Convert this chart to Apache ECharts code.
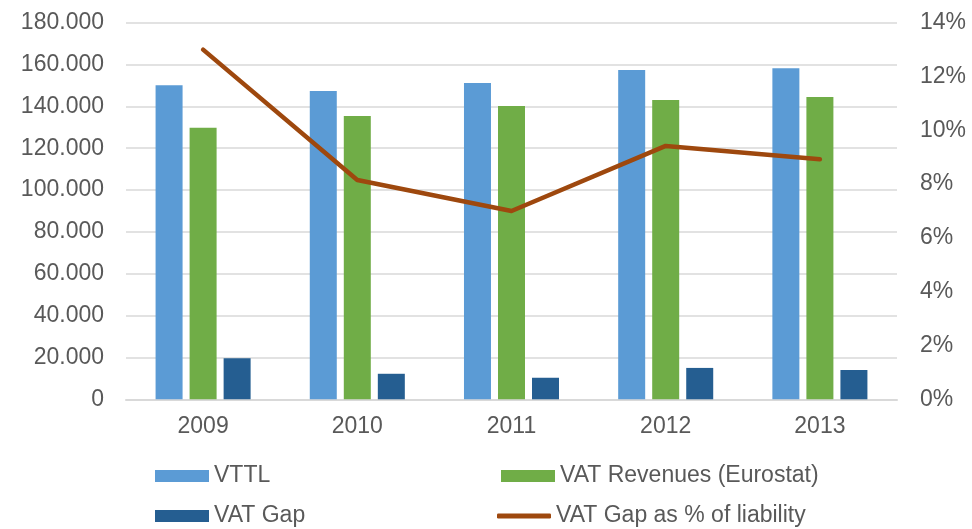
<!DOCTYPE html>
<html>
<head>
<meta charset="utf-8">
<script src="https://cdn.jsdelivr.net/npm/echarts@6/dist/echarts.min.js"></script>
<style>
  html, body { margin: 0; padding: 0; background: #fff; }
  #chart { width: 972px; height: 529px; }
</style>
</head>
<body>
<div id="chart"></div>
<script>
const years = ['2009', '2010', '2011', '2012', '2013'];
const vttl = [150100, 147400, 151200, 157400, 158200];
const vatRevenues = [129800, 135400, 140200, 143000, 144500];
const vatGap = [19600, 12200, 10300, 15000, 14000];
const gapPct = [13.0, 8.15, 7.0, 9.42, 8.92];

const labelColor = '#595959';
const font = 'Liberation Sans, Arial, sans-serif';
const fontSize = 23;

function fmtThousands(v) {
  return String(v).replace(/\B(?=(\d{3})+(?!\d))/g, '.');
}

const chart = echarts.init(document.getElementById('chart'));

function legendAt(name, left, top, icon) {
  return {
    data: [{ name: name, icon: icon }],
    left: left,
    top: top,
    itemWidth: 54,
    itemHeight: icon === 'rect' ? 12 : 5,
    itemGap: 4,
    padding: 0,
    textStyle: { color: labelColor, fontSize: fontSize, fontFamily: font },
    selectedMode: false
  };
}

chart.setOption({
  animation: false,
  backgroundColor: '#fff',
  grid: { left: 126, right: 75, top: 22.7, bottom: 129.7 },
  legend: [
    legendAt('VTTL', 155, 464.5, 'rect'),
    legendAt('VAT Revenues (Eurostat)', 501, 464.5, 'rect'),
    legendAt('VAT Gap', 155, 504.5, 'rect'),
    legendAt('VAT Gap as % of liability', 497, 504.5, 'roundRect')
  ],
  xAxis: {
    type: 'category',
    data: years,
    axisLine: { lineStyle: { color: '#D9D9D9', width: 2 } },
    axisTick: { show: false },
    axisLabel: { color: labelColor, fontSize: fontSize, fontFamily: font, margin: 16 }
  },
  yAxis: [
    {
      type: 'value',
      min: 0, max: 180000, interval: 20000,
      axisLine: { show: false },
      axisTick: { show: false },
      splitLine: { lineStyle: { color: '#D9D9D9', width: 1.5 } },
      axisLabel: { color: labelColor, fontSize: fontSize, fontFamily: font, margin: 22, formatter: fmtThousands }
    },
    {
      type: 'value',
      min: 0, max: 14, interval: 2,
      position: 'right',
      axisLine: { show: false },
      axisTick: { show: false },
      splitLine: { show: false },
      axisLabel: { color: labelColor, fontSize: fontSize, fontFamily: font, margin: 23, formatter: v => v + '%' }
    }
  ],
  series: [
    {
      name: 'VTTL', type: 'bar', data: vttl,
      barWidth: 27, barGap: '26%',
      itemStyle: { color: '#5B9BD5' }
    },
    {
      name: 'VAT Revenues (Eurostat)', type: 'bar', data: vatRevenues,
      barWidth: 27, barGap: '26%',
      itemStyle: { color: '#70AD47' }
    },
    {
      name: 'VAT Gap', type: 'bar', data: vatGap,
      barWidth: 27, barGap: '26%',
      itemStyle: { color: '#255E91' }
    },
    {
      name: 'VAT Gap as % of liability', type: 'line', data: gapPct,
      yAxisIndex: 1,
      symbol: 'none',
      lineStyle: { color: '#9E480E', width: 4.5, cap: 'round', join: 'round' },
      itemStyle: { color: '#9E480E' }
    }
  ]
});
</script>
</body>
</html>
